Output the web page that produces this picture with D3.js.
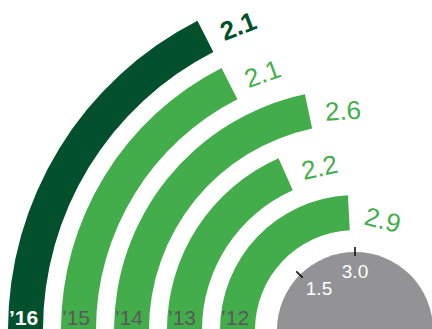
<!DOCTYPE html>
<html>
<head>
<meta charset="utf-8">
<script src="https://cdn.jsdelivr.net/npm/d3@7"></script>
<style>
  html, body { margin: 0; padding: 0; background: #fff; }
  svg { display: block; }
  text { font-family: "Liberation Sans", Arial, Helvetica, sans-serif; }
</style>
</head>
<body>
<svg id="chart" width="432" height="329"></svg>
<script>
// Rings from innermost to outermost
const years = ["’12", "’13", "’14", "’15", "’16"];
const values = [2.9, 2.2, 2.6, 2.1, 2.1];
const highlightYear = "’16";
const scaleTicks = [1.5, 3.0];
const scaleDomain = [0, 3];

const W = 432, H = 329;
const cx = 355, cy = 330;

const svg = d3.select("#chart");
const g = svg.append("g").attr("transform", `translate(${cx},${cy})`);

const angle = d3.scaleLinear().domain(scaleDomain).range([-Math.PI / 2, 0]);
const radius = d3.scaleBand().domain(years).range([100, 347]).paddingInner(0.34).paddingOuter(0);

const dark = "#03512c";
const light = "#43ad4b";

const data = years.map((y, i) => ({ year: y, value: values[i] }));

const arc = d3.arc()
  .innerRadius(d => radius(d.year))
  .outerRadius(d => radius(d.year) + radius.bandwidth())
  .startAngle(angle(0))
  .endAngle(d => angle(d.value));

g.selectAll("path.bar").data(data).join("path")
  .attr("class", "bar")
  .attr("d", arc)
  .attr("fill", d => d.year === highlightYear ? dark : light);

// Value labels follow the ring, a little past each bar's end
g.selectAll("text.val").data(data).join("text")
  .attr("class", "val")
  .each(function (d) {
    const rMid = radius(d.year) + radius.bandwidth() / 2 - 4;
    const a = angle(d.value) + 34 / rMid;
    const x = rMid * Math.sin(a), y = -rMid * Math.cos(a);
    d3.select(this)
      .attr("transform", `translate(${x},${y}) rotate(${a * 180 / Math.PI})`);
  })
  .attr("text-anchor", "middle")
  .attr("dominant-baseline", "central")
  .attr("font-size", 26)
  .attr("font-weight", d => d.year === highlightYear ? "bold" : "normal")
  .attr("fill", d => d.year === highlightYear ? dark : light)
  .text(d => d.value.toFixed(1));

// Year labels at the foot of each ring
g.selectAll("text.year").data(data).join("text")
  .attr("class", "year")
  .attr("x", d => -(radius(d.year) + radius.bandwidth()) + 1)
  .attr("y", -5)
  .attr("font-size", 21)
  .attr("font-weight", d => d.year === highlightYear ? "bold" : "normal")
  .attr("fill", d => d.year === highlightYear ? "#ffffff" : "#58585a")
  .text(d => d.year);

// Grey dial with the angular scale
const dialR = 78;
g.append("circle").attr("r", dialR).attr("fill", "#939396");

g.selectAll("line.tick").data(scaleTicks).join("line")
  .attr("class", "tick")
  .attr("x1", d => 74 * Math.sin(angle(d)))
  .attr("y1", d => -74 * Math.cos(angle(d)))
  .attr("x2", d => 83 * Math.sin(angle(d)))
  .attr("y2", d => -83 * Math.cos(angle(d)))
  .attr("stroke", "#111")
  .attr("stroke-width", 1.6);

g.selectAll("text.tl").data(scaleTicks).join("text")
  .attr("class", "tl")
  .attr("x", d => 58 * Math.sin(angle(d)) + (d < 3 ? 5 : 0))
  .attr("y", d => -59 * Math.cos(angle(d)))
  .attr("text-anchor", "middle")
  .attr("dominant-baseline", "central")
  .attr("font-size", 19)
  .attr("fill", "#ffffff")
  .text(d => d.toFixed(1));
</script>
</body>
</html>
